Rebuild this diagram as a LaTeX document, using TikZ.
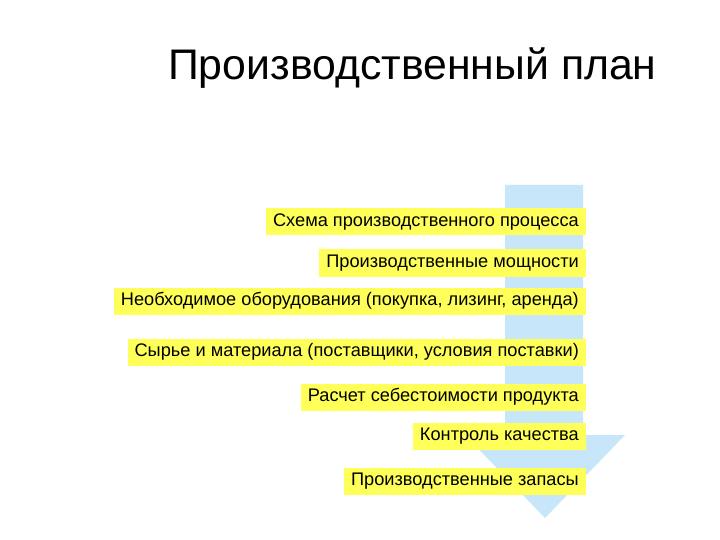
\documentclass[tikz,border=0pt]{standalone}
\usepackage{fontspec}
\setmainfont{Liberation Sans}
\definecolor{boxyellow}{RGB}{255,255,90}
\definecolor{arrowblue}{RGB}{200,230,250}
\begin{document}
\begin{tikzpicture}[x=1bp,y=-1bp,
  itembox/.style={fill=boxyellow, draw=none, anchor=east, minimum height=27bp,
    inner xsep=7bp, inner ysep=0bp, font=\fontsize{18.2bp}{20bp}\selectfont, text=black}]
\useasboundingbox[fill=white] (0,0) rectangle (720,540);
% title
\node[anchor=base west, inner sep=0pt, font=\fontsize{42.8bp}{50bp}\selectfont] (title) at (168,80) {Производственный план};
% big arrow
\fill[arrowblue] (505,185) -- (583,185) -- (583,435) -- (625,435) -- (545,518) -- (465,435) -- (505,435) -- cycle;
% boxes
\node[itembox] (b1) at (586,222) {Схема производственного процесса};
\node[itembox] (b2) at (586,263) {Производственные мощности};
\node[itembox] (b3) at (586,301) {Необходимое оборудования (покупка, лизинг, аренда)};
\node[itembox] (b4) at (586,352) {Сырье и материала (поставщики, условия поставки)};
\node[itembox] (b5) at (586,397) {Расчет себестоимости продукта};
\node[itembox] (b6) at (586,436) {Контроль качества};
\node[itembox] (b7) at (586,481) {Производственные запасы};
\end{tikzpicture}
\end{document}
